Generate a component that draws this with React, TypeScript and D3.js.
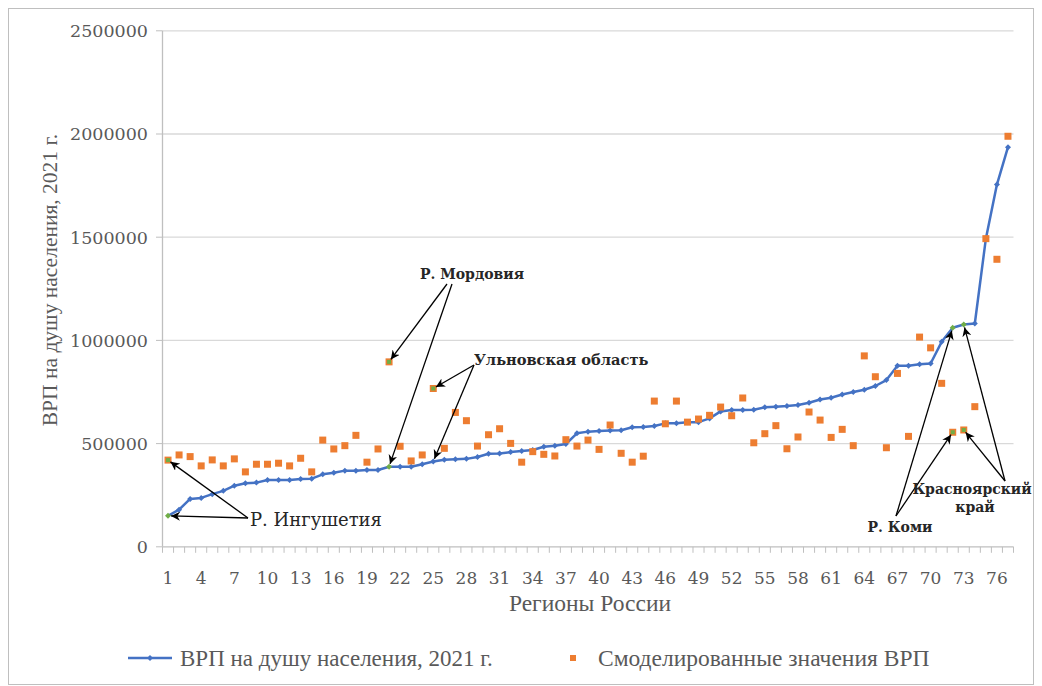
import React from 'react';
import * as d3 from 'd3';

const regions: number[] = d3.range(1, 78);

const vrpActual: number[] = [
  150000, 180000, 232000, 237000, 255000, 271000, 296000, 308000, 311000, 324000,
  324000, 324000, 329000, 330000, 351000, 359000, 369000, 369000, 372000, 372000,
  388000, 388000, 388000, 400000, 413000, 422000, 424000, 426000, 435000, 451000,
  452000, 459000, 464000, 469000, 485000, 490000, 498000, 550000, 558000, 561000,
  564000, 565000, 579000, 580000, 585000, 598000, 599000, 603000, 604000, 622000,
  656000, 663000, 663000, 664000, 676000, 679000, 682000, 687000, 698000, 714000,
  722000, 738000, 750000, 761000, 779000, 808000, 877000, 877000, 884000, 888000,
  993000, 1061000, 1077000, 1082000, 1493000, 1755000, 1936000,
];

const vrpModel: number[] = [
  420000, 445000, 437000, 392000, 421000, 392000, 426000, 363000, 400000, 400000,
  405000, 392000, 429000, 363000, 517000, 474000, 490000, 540000, 410000, 474000,
  896000, 487000, 416000, 445000, 767000, 477000, 651000, 611000, 488000, 543000,
  572000, 501000, 410000, 461000, 448000, 440000, 519000, 488000, 517000, 472000,
  590000, 453000, 410000, 439000, 706000, 596000, 706000, 604000, 619000, 637000,
  677000, 635000, 721000, 504000, 548000, 587000, 475000, 532000, 653000, 614000,
  530000, 569000, 490000, 925000, 824000, 480000, 840000, 535000, 1016000, 964000,
  792000, 555000, 566000, 679000, 1493000, 1393000, 1989000,
];

const yTicks: number[] = [0, 500000, 1000000, 1500000, 2000000, 2500000];
const xTickLabels: number[] = regions.filter((r) => (r - 1) % 3 === 0);
const highlightLine: number[] = [1, 21, 72, 73];
const highlightModel: number[] = [1, 21, 25, 72, 73];

const seriesNames: string[] = ['ВРП на душу населения, 2021 г.', 'Смоделированные значения ВРП'];
const yTitle = 'ВРП на душу населения, 2021 г.';
const xTitle = 'Регионы России';

type Ann = { region: number; series: 'a' | 'm'; from: [number, number] };
const annotations: Ann[] = [
  { region: 21, series: 'm', from: [447, 284] },
  { region: 21, series: 'a', from: [452, 284] },
  { region: 25, series: 'm', from: [474, 365] },
  { region: 25, series: 'a', from: [474, 365] },
  { region: 1, series: 'm', from: [248, 518] },
  { region: 1, series: 'a', from: [248, 518] },
  { region: 72, series: 'a', from: [896, 516] },
  { region: 72, series: 'm', from: [896, 516] },
  { region: 73, series: 'a', from: [1005, 481] },
  { region: 73, series: 'm', from: [1005, 481] },
];

const BLUE = '#4472C4';
const ORANGE = '#ED7D31';
const GREEN = '#70AD47';
const TICK = '#595959';
const SERIF = "'DejaVu Serif', serif";
const TIMES = "'Liberation Serif', serif";

export default function App() {
  const W = 1042;
  const H = 686;
  const x = d3.scaleBand<number>().domain(regions).range([162.5, 1013.5]);
  const cx = (r: number) => (x(r) as number) + x.bandwidth() / 2;
  const y = d3.scaleLinear().domain([0, 2500000]).range([546.8, 30.8]);
  const linePath = d3
    .line<number>()
    .x((_, i) => cx(regions[i]))
    .y((d) => y(d))(vrpActual) as string;

  const diamond = (px: number, py: number, r: number) =>
    `M${px},${py - r}L${px + r},${py}L${px},${py + r}L${px - r},${py}Z`;

  const arrowTip = (a: Ann) => {
    const v = a.series === 'a' ? vrpActual[a.region - 1] : vrpModel[a.region - 1];
    const tx = cx(a.region);
    const ty = y(v);
    const dx = a.from[0] - tx;
    const dy = a.from[1] - ty;
    const len = Math.hypot(dx, dy);
    const off = 3;
    return [tx + (dx / len) * off, ty + (dy / len) * off];
  };

  return (
    <svg
      width={W}
      height={H}
      style={{ position: 'absolute', left: 0, top: 0, background: '#fff' }}
    >
      <defs>
        <marker id="arr" viewBox="0 0 10 10" refX="10" refY="5" markerWidth="9" markerHeight="9" orient="auto" markerUnits="userSpaceOnUse">
          <path d="M0,0 L10,5 L0,10 L3,5 Z" fill="#000" />
        </marker>
      </defs>
      <rect x={8.5} y={8.5} width={1025} height={676} fill="#fff" stroke="#BFBFBF" strokeWidth={1} />

      {/* grid */}
      {yTicks.map((t) => (
        <g key={t}>
          {t > 0 && (
            <line x1={162.5} x2={1013.5} y1={y(t)} y2={y(t)} stroke="#D9D9D9" strokeWidth={1.3} />
          )}
          <line x1={156} x2={162.5} y1={y(t)} y2={y(t)} stroke="#BFBFBF" strokeWidth={1} />
          <text x={148} y={y(t)} dy="0.36em" textAnchor="end" fontFamily={SERIF} fontSize={17.5} fill={TICK}>
            {t}
          </text>
        </g>
      ))}
      {/* axes */}
      <line x1={162.5} x2={162.5} y1={30.8} y2={y(0)} stroke="#BFBFBF" strokeWidth={1.3} />
      <line x1={162.5} x2={1013.5} y1={y(0)} y2={y(0)} stroke="#BFBFBF" strokeWidth={1.3} />
      {regions.concat([78]).map((r, i) => {
        const xx = i < regions.length ? (x(r) as number) : 1013.5;
        return <line key={'t' + r} x1={xx} x2={xx} y1={y(0)} y2={y(0) + 6} stroke="#BFBFBF" strokeWidth={1} />;
      })}
      {xTickLabels.map((r) => (
        <text key={'xl' + r} x={cx(r)} y={584} textAnchor="middle" fontFamily={SERIF} fontSize={17} fill={TICK}>
          {r}
        </text>
      ))}

      <text x={590} y={611} textAnchor="middle" fontFamily={TIMES} fontSize={23.5} fill={TICK}>
        {xTitle}
      </text>
      <text
        transform="translate(57,280) rotate(-90)"
        textAnchor="middle"
        fontFamily={TIMES}
        fontSize={21.5}
        fill={TICK}
      >
        {yTitle}
      </text>

      {/* actual line */}
      <path d={linePath} fill="none" stroke={BLUE} strokeWidth={2.5} strokeLinejoin="round" />
      {vrpActual.map((v, i) => (
        <path
          key={'a' + i}
          d={diamond(cx(regions[i]), y(v), 3)}
          fill={highlightLine.includes(regions[i]) ? GREEN : BLUE}
        />
      ))}

      {/* model points */}
      {vrpModel.map((v, i) => {
        const r = regions[i];
        const px = cx(r);
        const py = y(v);
        return (
          <g key={'m' + i}>
            <rect x={px - 3.5} y={py - 3.5} width={7} height={7} fill={ORANGE} />
            {highlightModel.includes(r) && <rect x={px - 2} y={py - 2} width={4} height={4} fill={GREEN} />}
          </g>
        );
      })}

      {/* annotations */}
      {annotations.map((a, i) => {
        const [tx, ty] = arrowTip(a);
        return (
          <line key={'ann' + i} x1={a.from[0]} y1={a.from[1]} x2={tx} y2={ty} stroke="#000" strokeWidth={1.3} markerEnd="url(#arr)" />
        );
      })}
      <text x={472} y={279} textAnchor="middle" fontFamily={SERIF} fontWeight="bold" fontSize={14} fill="#262626">
        Р. Мордовия
      </text>
      <text x={474} y={365} fontFamily={SERIF} fontWeight="bold" fontSize={14.6} fill="#262626">
        Ульновская область
      </text>
      <text x={250} y={526} fontFamily={SERIF} fontSize={18} fill="#262626">
        Р. Ингушетия
      </text>
      <text x={900} y={532} textAnchor="middle" fontFamily={SERIF} fontWeight="bold" fontSize={14} fill="#262626">
        Р. Коми
      </text>
      <text x={972} y={494} textAnchor="middle" fontFamily={SERIF} fontWeight="bold" fontSize={14} fill="#262626">
        Красноярский
      </text>
      <text x={975} y={512} textAnchor="middle" fontFamily={SERIF} fontWeight="bold" fontSize={14} fill="#262626">
        край
      </text>

      {/* legend */}
      <line x1={128} x2={172} y1={658} y2={658} stroke={BLUE} strokeWidth={2.5} />
      <path d={diamond(150, 658, 3)} fill={BLUE} />
      <text x={180} y={658} dy="0.35em" fontFamily={TIMES} fontSize={23} fill={TICK}>
        {seriesNames[0]}
      </text>
      <rect x={570} y={655} width={6} height={6} fill={ORANGE} />
      <text x={598} y={658} dy="0.35em" fontFamily={TIMES} fontSize={23.5} fill={TICK}>
        {seriesNames[1]}
      </text>
    </svg>
  );
}
